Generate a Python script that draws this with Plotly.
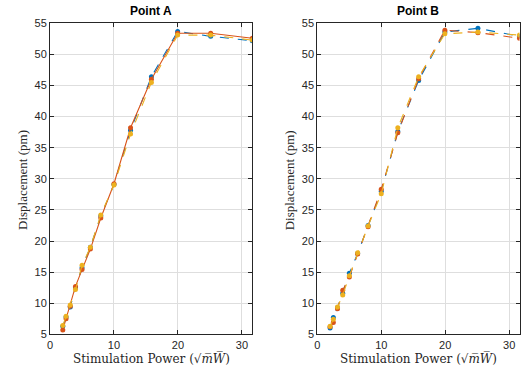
import numpy as np
import plotly.graph_objects as go

x = [2.0, 2.51, 3.16, 3.98, 5.01, 6.31, 7.94, 10.0, 12.59, 15.85, 19.95, 25.12, 31.62]

a_blue   = [6.3, 7.8, 9.4, 12.5, 15.7, 19.0, 24.0, 29.1, 37.8, 46.4, 53.7, 52.9, 52.2]
a_orange = [5.7, 7.5, 9.5, 12.7, 15.4, 18.7, 23.7, 29.2, 38.2, 46.0, 53.4, 53.4, 52.6]
a_yellow = [6.4, 7.9, 9.7, 12.2, 16.1, 19.0, 24.2, 29.0, 37.2, 45.5, 53.1, 53.1, 52.3]

b_blue   = [6.0, 7.7, 9.3, 11.6, 14.8, 18.0, 22.5, 28.0, 37.6, 45.8, 53.6, 54.2, 52.9]
b_orange = [6.2, 6.9, 9.1, 12.1, 14.2, 17.9, 22.3, 28.3, 37.4, 46.1, 53.9, 53.5, 52.6]
b_yellow = [6.3, 7.4, 9.4, 11.3, 14.4, 18.1, 22.4, 27.6, 38.2, 46.4, 53.3, 53.6, 53.1]

titles = ["Point A", "Point B"]
y_ticks = [5, 10, 15, 20, 25, 30, 35, 40, 45, 50, 55]
x_ticks = [0, 10, 20, 30]

colors = ["#0072BD", "#D95319", "#EDB120"]

fig = go.Figure()

panels = [
    ("x", "y", [a_blue, a_orange, a_yellow], ["dash", "solid", "dash"]),
    ("x2", "y2", [b_blue, b_orange, b_yellow], ["dash", "dash", "dash"]),
]
for xa, ya, series, dashes in panels:
    for s, c, d in zip(series, colors, dashes):
        fig.add_trace(go.Scatter(
            x=x, y=s, xaxis=xa, yaxis=ya, mode="lines+markers",
            line=dict(color=c, width=1.1, dash=d),
            marker=dict(color=c, size=5), showlegend=False))

axis_common = dict(
    showline=True, linecolor="#262626", linewidth=1, mirror="ticks",
    ticks="inside", ticklen=4, tickcolor="#262626",
    showgrid=True, gridcolor="#dedede", gridwidth=1, zeroline=False,
    tickfont=dict(family="Liberation Sans, Arial", size=11, color="#262626"),
    automargin=False,
)

ydom = [38.7 / 373, 349.7 / 373]
xdoms = [[50 / 521, 252.3 / 521], [317.3 / 521, 519.5 / 521]]

fig.update_layout(
    width=521, height=373, margin=dict(l=0, r=0, t=0, b=0, autoexpand=False),
    plot_bgcolor="white", paper_bgcolor="white",
    xaxis=dict(domain=xdoms[0], range=[0, 31.62], tickvals=x_ticks, anchor="y", **axis_common),
    yaxis=dict(domain=ydom, range=[5, 55], tickvals=y_ticks, anchor="x", **axis_common),
    xaxis2=dict(domain=xdoms[1], range=[0, 31.62], tickvals=x_ticks, anchor="y2", **axis_common),
    yaxis2=dict(domain=ydom, range=[5, 55], tickvals=y_ticks, anchor="x2", **axis_common),
)

xlabel = "Stimulation Power (√<i>m\u0305W\u0305</i>)"
for i, t in enumerate(titles):
    cx = (xdoms[i][0] + xdoms[i][1]) / 2
    fig.add_annotation(text="<b>" + t + "</b>", x=cx, y=1 - 11 / 373, xref="paper", yref="paper",
                       showarrow=False, font=dict(family="Liberation Sans, Arial", size=12, color="black"),
                       xanchor="center", yanchor="middle")
    fig.add_annotation(text=xlabel, x=cx, y=1 - 358 / 373, xref="paper", yref="paper",
                       showarrow=False, font=dict(family="DejaVu Serif", size=12, color="#262626"),
                       xanchor="center", yanchor="middle")
    fig.add_annotation(text="Displacement (pm)", x=(xdoms[i][0] * 521 - 28) / 521, y=1 - 180 / 373,
                       xref="paper", yref="paper", textangle=-90,
                       showarrow=False, font=dict(family="Liberation Serif, DejaVu Serif", size=13, color="#262626"),
                       xanchor="center", yanchor="middle")

fig.write_html("out.html", config={"displayModeBar": False},
               post_script="document.body.style.margin='0';document.body.style.padding='0';")
